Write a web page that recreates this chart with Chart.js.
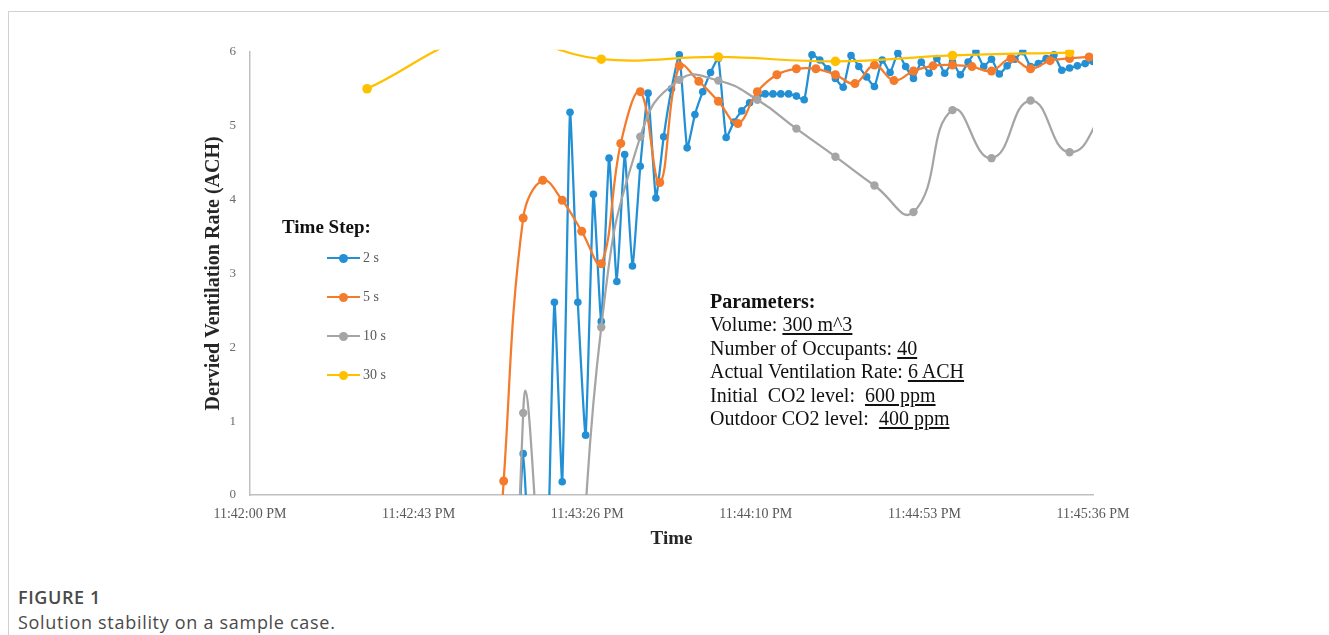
<!DOCTYPE html>
<html>
<head>
<meta charset="utf-8">
<title>Solution stability on a sample case</title>
<script src="https://cdn.jsdelivr.net/npm/chart.js@4.4.1/dist/chart.umd.min.js"></script>
<style>
  html, body { margin: 0; padding: 0; background: #fff; }
  body { width: 1329px; height: 635px; position: relative; overflow: hidden; font-family: "Liberation Serif", "Times New Roman", serif; }
  #frame { position: absolute; left: 8px; top: 11px; width: 1400px; height: 700px; border-top: 1px solid #d2d2d2; border-left: 1px solid #d2d2d2; }
  #chart-wrap { position: absolute; left: 150px; top: 30px; width: 1000px; height: 530px; }
  #legend-title { position: absolute; left: 282px; top: 215px; font-size: 19px; font-weight: bold; color: #111; line-height: 24px; }
  #legend-items { position: absolute; left: 327px; top: 238.5px; }
  .legend-item { height: 39px; display: flex; align-items: center; font-size: 14px; color: #595959; }
  .swatch { position: relative; width: 33px; height: 2px; margin-right: 3px; }
  .swatch i { position: absolute; left: 12px; top: -3.5px; width: 9px; height: 9px; border-radius: 50%; }
  #params { position: absolute; left: 710px; top: 290px; font-size: 20px; line-height: 23.4px; color: #111; white-space: pre; }
  #params .head { font-weight: bold; }
  #params u { text-underline-offset: 2px; }
  #caption { position: absolute; left: 18px; top: 584px; font-family: "Open Sans", sans-serif; color: #4a4a4a; }
  #caption .fig { font-size: 18px; font-weight: 600; line-height: 26px; letter-spacing: 0.6px; }
  #caption .txt { font-size: 18px; line-height: 24px; letter-spacing: 0.7px; }
</style>
</head>
<body>
<div id="frame"></div>
<div id="chart-wrap"><canvas id="chart"></canvas></div>
<div id="legend-title">Time Step:</div>
<div id="legend-items"></div>
<div id="params"></div>
<div id="caption">
  <div class="fig">FIGURE 1</div>
  <div class="txt">Solution stability on a sample case.</div>
</div>
<script>
// x axis: seconds after 11:42:00 PM
const TICK_SECONDS = [0, 43.2, 86.4, 129.6, 172.8, 216];
const TICK_LABELS = ['11:42:00 PM', '11:42:43 PM', '11:43:26 PM', '11:44:10 PM', '11:44:53 PM', '11:45:36 PM'];

const SERIES_LABELS = ['2 s', '5 s', '10 s', '30 s'];
const SERIES_COLORS = ['#2390d5', '#f57b2c', '#a5a5a5', '#ffc000'];

// 2 s time step
const T_2S = [68, 70, 72, 74, 76, 78, 80, 82, 84, 86, 88, 90, 92, 94, 96, 98, 100, 102, 104, 106,
  108, 110, 112, 114, 116, 118, 120, 122, 124, 126, 128, 130, 132, 134, 136, 138, 140, 142, 144, 146,
  148, 150, 152, 154, 156, 158, 160, 162, 164, 166, 168, 170, 172, 174, 176, 178, 180, 182, 184, 186,
  188, 190, 192, 194, 196, 198, 200, 202, 204, 206, 208, 210, 212, 214, 216];
const V_2S = [-1.5, 0.56, -1.5, -3, -1.5, 2.61, 0.18, 5.18, 2.61, 0.81, 4.07, 2.35, 4.56, 2.89, 4.61, 3.10, 4.45, 5.44, 4.02, 4.85,
  5.50, 5.96, 4.70, 5.15, 5.46, 5.72, 5.91, 4.84, 5.05, 5.20, 5.31, 5.38, 5.43, 5.43, 5.43, 5.43, 5.40, 5.35, 5.96, 5.89,
  5.77, 5.64, 5.52, 5.95, 5.80, 5.66, 5.53, 5.89, 5.72, 5.98, 5.80, 5.64, 5.86, 5.71, 5.91, 5.71, 5.86, 5.69, 5.86, 6.00,
  5.80, 5.90, 5.70, 5.81, 5.90, 6.00, 5.80, 5.84, 5.91, 5.96, 5.75, 5.78, 5.81, 5.84, 5.87];

// 5 s time step
const T_5S = [60, 65, 70, 75, 80, 85, 90, 95, 100, 105, 110, 115, 120, 125, 130, 135, 140, 145, 150, 155,
  160, 165, 170, 175, 180, 185, 190, 195, 200, 205, 210, 215];
const V_5S = [-4, 0.19, 3.75, 4.26, 3.99, 3.57, 3.13, 4.76, 5.46, 4.23, 5.81, 5.60, 5.33, 5.03, 5.46, 5.69, 5.77, 5.77, 5.69, 5.57,
  5.82, 5.61, 5.74, 5.81, 5.82, 5.80, 5.74, 5.91, 5.77, 5.88, 5.91, 5.93];

// 10 s time step
const T_10S = [60, 70, 80, 90, 100, 110, 120, 130, 140, 150, 160, 170, 180, 190, 200, 210, 220];
const V_10S = [-30, 1.11, -4, 2.27, 4.85, 5.62, 5.61, 5.35, 4.96, 4.58, 4.19, 3.83, 5.21, 4.56, 5.34, 4.64, 5.30];

// 30 s time step
const T_30S = [30, 60, 90, 120, 150, 180, 210];
const V_30S = [5.50, 6.22, 5.90, 5.93, 5.87, 5.95, 5.99];

const PARAM_TITLE = 'Parameters:';
const PARAM_NAMES = ['Volume: ', 'Number of Occupants: ', 'Actual Ventilation Rate: ', 'Initial  CO2 level:  ', 'Outdoor CO2 level:  '];
const PARAM_VALUES = ['300 m^3', '40', '6 ACH', '600 ppm', '400 ppm'];

const SERIF = '"Liberation Serif", "Times New Roman", serif';

function toPoints(times, values) {
  return times.map(function (t, i) { return { x: t, y: values[i] }; });
}

const SERIES = [
  { times: T_2S, values: V_2S, radius: 3.8, tension: 0.15 },
  { times: T_5S, values: V_5S, radius: 4.5, tension: 0.4 },
  { times: T_10S, values: V_10S, radius: 4.2, tension: 0.5 },
  { times: T_30S, values: V_30S, radius: 4.8, tension: 0.4 },
];

const datasets = SERIES.map(function (s, i) {
  return {
    label: SERIES_LABELS[i],
    data: toPoints(s.times, s.values),
    borderColor: SERIES_COLORS[i],
    backgroundColor: SERIES_COLORS[i],
    pointBackgroundColor: SERIES_COLORS[i],
    pointBorderWidth: 0,
    pointRadius: s.radius,
    borderWidth: 2.25,
    tension: s.tension,
    order: SERIES.length - i,
    clip: { left: 0, right: 0, top: 2, bottom: 0 },
  };
});

new Chart(document.getElementById('chart'), {
  type: 'line',
  data: { datasets: datasets },
  options: {
    responsive: true,
    maintainAspectRatio: false,
    animation: false,
    events: [],
    layout: { padding: { left: 0, right: 57, top: 20, bottom: 0 } },
    elements: { line: { capBezierPoints: false } },
    plugins: { legend: { display: false }, tooltip: { enabled: false } },
    scales: {
      x: {
        type: 'linear',
        min: 0,
        max: 216,
        afterBuildTicks: function (scale) {
          scale.ticks = TICK_SECONDS.map(function (v) { return { value: v }; });
        },
        afterFit: function (scale) { scale.height = 65; },
        ticks: {
          autoSkip: false,
          maxRotation: 0,
          padding: 11,
          color: '#595959',
          font: { family: SERIF, size: 14 },
          callback: function (value, index) { return TICK_LABELS[index]; },
        },
        grid: { display: false, drawTicks: false },
        border: { display: true, color: '#bfbfbf', width: 1.5 },
        title: {
          display: true,
          text: 'Time',
          color: '#262626',
          font: { family: SERIF, size: 19, weight: 'bold' },
          padding: { top: 0, bottom: 10 },
        },
      },
      y: {
        min: 0,
        max: 6,
        afterFit: function (scale) { scale.width = 100; },
        ticks: {
          stepSize: 1,
          padding: 14,
          color: '#6b6b6b',
          font: { family: SERIF, size: 13 },
        },
        grid: { display: false, drawTicks: false },
        border: { display: true, color: '#bfbfbf', width: 1.5 },
        title: {
          display: true,
          text: 'Dervied Ventilation Rate (ACH)',
          color: '#262626',
          font: { family: SERIF, size: 20, weight: 'bold' },
          padding: { top: 52, bottom: 0 },
        },
      },
    },
  },
});

// legend inside the plot, as in the original figure
const legendEl = document.getElementById('legend-items');
SERIES_LABELS.forEach(function (label, i) {
  const row = document.createElement('div');
  row.className = 'legend-item';
  const sw = document.createElement('span');
  sw.className = 'swatch';
  sw.style.background = SERIES_COLORS[i];
  const dot = document.createElement('i');
  dot.style.background = SERIES_COLORS[i];
  sw.appendChild(dot);
  const txt = document.createElement('span');
  txt.textContent = label;
  row.appendChild(sw);
  row.appendChild(txt);
  legendEl.appendChild(row);
});

// parameters text box
const paramsEl = document.getElementById('params');
const head = document.createElement('div');
head.className = 'head';
head.textContent = PARAM_TITLE;
paramsEl.appendChild(head);
PARAM_NAMES.forEach(function (name, i) {
  const line = document.createElement('div');
  line.appendChild(document.createTextNode(name));
  const u = document.createElement('u');
  u.textContent = PARAM_VALUES[i];
  line.appendChild(u);
  paramsEl.appendChild(line);
});
</script>
</body>
</html>
